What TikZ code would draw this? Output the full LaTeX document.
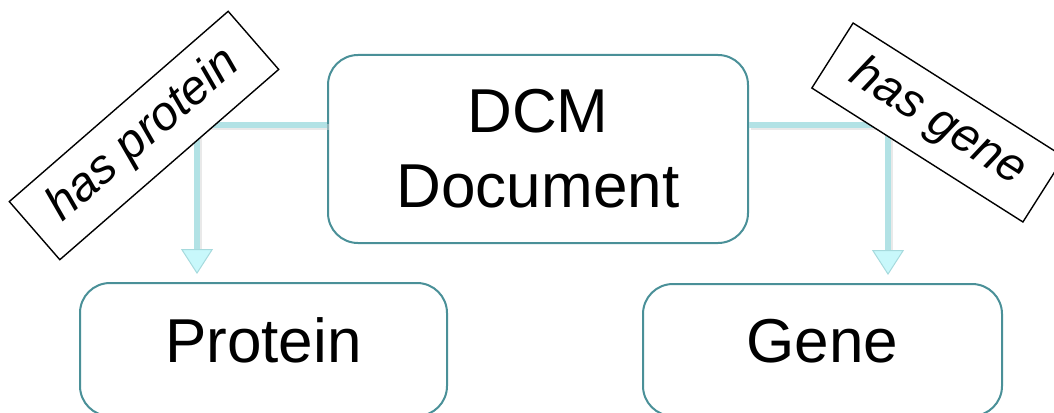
\documentclass[tikz,border=0pt]{standalone}
\usepackage{fontspec}
\setmainfont{Liberation Sans}
\usetikzlibrary{arrows.meta}
\definecolor{boxline}{HTML}{4A9098}
\definecolor{connline}{HTML}{B2E2E5}
\definecolor{tipfill}{HTML}{C8F8FB}
\definecolor{tipline}{HTML}{A6DADD}
\definecolor{connshade}{HTML}{D4D4D4}

\begin{document}
\begin{tikzpicture}[x=1pt,y=-1pt,
  entity/.style={draw=boxline, line width=2pt, rounded corners=30pt, inner sep=0pt,
                 font=\fontsize{62}{75}\selectfont},
  rel/.style={draw=black, line width=1.4pt, fill=white, inner sep=0pt,
              minimum height=77pt, font=\fontsize{48}{54}\selectfont\itshape},
  conn/.style={draw=connline, line width=6pt,
               -{Triangle[width=32pt,length=25pt,fill=tipfill,color=tipline,line width=1pt]}},
  connshadow/.style={draw=connshade, line width=6pt, opacity=0.5,
                     transform canvas={shift={(1.5pt,-2pt)}}}
]
\useasboundingbox (0,0) rectangle (1054,412);

% entity boxes
\node[entity, align=center, minimum width=420pt, minimum height=188pt] (doc) at (538,149) {DCM\\Document};
\node[entity, minimum width=367pt, minimum height=133pt, text height=45pt, text depth=20pt] (protein) at (263.5,349.5) {Protein};
\node[entity, minimum width=359pt, minimum height=132pt, text height=45pt, text depth=20pt] (gene) at (822.5,350) {Gene};

% branch points of the elbow connectors
\coordinate (lstart) at ([yshift=24pt]doc.west);
\coordinate (rstart) at ([yshift=24pt]doc.east);
\coordinate (lend) at ([xshift=-66.5pt,yshift=8pt]protein.north);
\coordinate (rend) at ([xshift=65.5pt,yshift=8pt]gene.north);

% soft shadow under the connectors
\draw[connshadow] (lstart) -| ([yshift=25pt]lend);
\draw[connshadow] (rstart) -| ([yshift=25pt]rend);

% connectors
\draw[conn] (lstart) -| (lend);
\draw[conn] (rstart) -| (rend);

% relation labels
\node[rel, rotate=41, minimum width=290pt] (hasprot) at (144,135.5) {has protein};
\node[rel, rotate=-32.4, minimum width=250pt] (hasgene) at (938,122.5) {has gene};
\end{tikzpicture}
\end{document}
